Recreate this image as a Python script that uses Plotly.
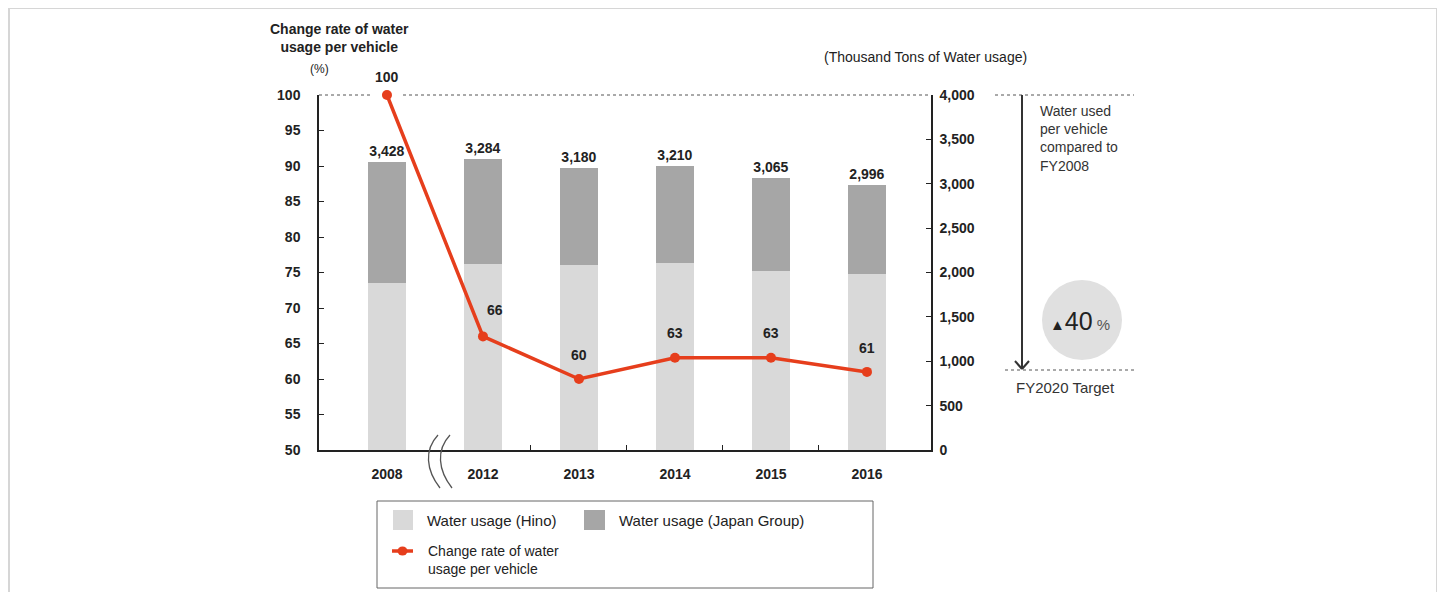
import plotly.graph_objects as go

# ---------------- data ----------------
years = ["2008", "2012", "2013", "2014", "2015", "2016"]
hino_usage = [1882, 2096, 2085, 2107, 2017, 1983]          # thousand tons (light bars)
group_usage = [1363, 1183, 1092, 1093, 1048, 1003]         # thousand tons (dark bars, stacked)
total_labels = ["3,428", "3,284", "3,180", "3,210", "3,065", "2,996"]
change_rate = [100, 66, 60, 63, 63, 61]                    # %
left_ticks = [50, 55, 60, 65, 70, 75, 80, 85, 90, 95, 100]
right_ticks = [0, 500, 1000, 1500, 2000, 2500, 3000, 3500, 4000]

# ---------------- layout geometry (page pixel coords) ----------------
OFF = 8                       # page body margin
W, H = 1445 - 2 * OFF, 600 - 2 * OFF
L, R, T, B = 319, 931, 95, 450
def px(x):
    return (x - L) / (R - L)
def py(y):
    return (B - y) / (B - T)

FONT = "Arial, Liberation Sans, sans-serif"
TXT = "#222222"
HINO = "#D9D9D9"
GROUP = "#A6A6A6"
RED = "#E63E1C"

xs = list(range(len(years)))

fig = go.Figure()
fig.add_trace(go.Bar(x=xs, y=hino_usage, marker_color=HINO, width=0.4,
                     yaxis="y", showlegend=False, marker_line_width=0))
fig.add_trace(go.Bar(x=xs, y=group_usage, marker_color=GROUP, width=0.4,
                     yaxis="y", showlegend=False, marker_line_width=0,
                     text=total_labels, textposition="outside",
                     textfont=dict(family=FONT, size=14, color=TXT, weight="bold"),
                     cliponaxis=False))
fig.add_trace(go.Scatter(x=xs, y=change_rate, mode="lines+markers", yaxis="y2",
                         line=dict(color=RED, width=3.5),
                         marker=dict(color=RED, size=10), showlegend=False,
                         cliponaxis=False))

# labels for change rate
offsets = [(0, 18), (12, 26), (0, 24), (0, 25), (0, 25), (0, 24)]
annotations = []
for i, (v, (dx, dy)) in enumerate(zip(change_rate, offsets)):
    annotations.append(dict(x=xs[i], y=v, xref="x", yref="y2", text=str(v),
                            showarrow=False, xshift=dx, yshift=dy,
                            font=dict(family=FONT, size=14, color=TXT, weight="bold")))

def ann(x, y, text, size=13, anchor="center", weight="normal", color="#333333", align="center"):
    annotations.append(dict(x=px(x), y=py(y), xref="paper", yref="paper", text=text,
                            showarrow=False, xanchor=anchor, yanchor="middle", align=align,
                            font=dict(family=FONT, size=size, color=color, weight=weight)))

ann(339, 38, "Change rate of water<br>usage per vehicle", size=14, weight="bold", color="#222")
ann(319, 69, "(%)", size=12, color="#222")
ann(925, 57, "(Thousand Tons of Water usage)", size=14, color="#222")
ann(1038, 139, "Water used<br>per vehicle<br>compared to<br>FY2008", size=14, anchor="left", align="left")
ann(1065, 387, "FY2020 Target", size=15)
ann(1080, 321, "<span style='font-size:15px'>▲</span><span style='font-size:25px'>40</span><span style='font-size:15px;color:#555'> %</span>",
    size=25, color="#222")

# legend texts
ann(425, 520, "Water usage (Hino)", size=15, anchor="left", color="#222")
ann(617, 520, "Water usage (Japan Group)", size=15, anchor="left", color="#222")
ann(426, 560, "Change rate of water<br>usage per vehicle", size=14, anchor="left", align="left", color="#222")

shapes = []
def line(x0, y0, x1, y1, color="#555", width=1, dash="solid"):
    shapes.append(dict(type="line", xref="paper", yref="paper", x0=px(x0), y0=py(y0),
                       x1=px(x1), y1=py(y1), line=dict(color=color, width=width, dash=dash)))

# outer frame
shapes.append(dict(type="rect", xref="paper", yref="paper", x0=px(9), y0=py(8), x1=px(1437), y1=py(620),
                   line=dict(color="#D6D6D6", width=2), layer="below"))
# dotted 100 line (gap around the 2008 marker)
line(L, T, 370, T, dash="dot")
line(403, T, R, T, dash="dot")
# right side target annotation lines
line(995, T, 1134, T, dash="dot")
line(1005, 370, 1137, 370, dash="dot")
line(1022, T, 1022, 369, color="#333", width=2)
line(1022, 369, 1015, 361, color="#333", width=2)
line(1022, 369, 1029, 361, color="#333", width=2)
# circle
shapes.append(dict(type="circle", xref="paper", yref="paper", x0=px(1042), y0=py(280),
                   x1=px(1122), y1=py(360), fillcolor="#E0E0E0", line=dict(width=0), layer="below"))
# axis break marks (S-shaped)
for x0 in (438, 450):
    p = (f"M {px(x0)},{py(435)} C {px(x0-14)},{py(450)} {px(x0-12)},{py(470)} {px(x0+2)},{py(488)}")
    shapes.append(dict(type="path", xref="paper", yref="paper", path=p,
                       line=dict(color="#555", width=1.3)))
# legend box
shapes.append(dict(type="rect", xref="paper", yref="paper", x0=px(377), y0=py(501), x1=px(873), y1=py(588),
                   line=dict(color="#666", width=1)))
shapes.append(dict(type="rect", xref="paper", yref="paper", x0=px(393), y0=py(510), x1=px(413), y1=py(530),
                   fillcolor=HINO, line=dict(width=0)))
shapes.append(dict(type="rect", xref="paper", yref="paper", x0=px(584), y0=py(510), x1=px(605), y1=py(530),
                   fillcolor=GROUP, line=dict(width=0)))
line(392, 551, 413, 551, color=RED, width=3.5)
shapes.append(dict(type="circle", xref="paper", yref="paper", x0=px(397.5), y0=py(546.5),
                   x1=px(407.5), y1=py(555.5), fillcolor=RED, line=dict(width=0)))

fig.update_layout(
    width=W, height=H,
    margin=dict(l=L - OFF, r=(W + OFF) - R, t=T - OFF, b=(H + OFF) - B),
    paper_bgcolor="white", plot_bgcolor="white",
    barmode="stack",
    showlegend=False,
    xaxis=dict(range=[-0.708, 5.667], tickvals=xs, ticktext=years, ticks="",
               showgrid=False, zeroline=False, showline=True, linecolor="#222", linewidth=1.5,
               tickfont=dict(family=FONT, size=14, color=TXT, weight="bold"),
               ticklabelstandoff=10,
               minor=dict(tickvals=[1.5, 2.5, 3.5, 4.5], ticks="inside", ticklen=5,
                          tickcolor="#222", tickwidth=1, showgrid=False)),
    yaxis=dict(range=[0, 4000], tickvals=right_ticks, tickformat=",", ticks="inside", ticklen=5,
               tickcolor="#222", side="right", showgrid=False, zeroline=False,
               showline=True, linecolor="#222", linewidth=1.5, ticklabelstandoff=4,
               tickfont=dict(family=FONT, size=14, color=TXT, weight="bold")),
    yaxis2=dict(range=[50, 100], tickvals=left_ticks, ticks="inside", ticklen=5,
                overlaying="y", side="left",
                tickcolor="#222", showgrid=False, zeroline=False, showline=True,
                linecolor="#222", linewidth=1.5, ticklabelstandoff=14,
                tickfont=dict(family=FONT, size=14, color=TXT, weight="bold")),
    annotations=annotations,
    shapes=shapes,
)

fig.write_html("out.html")
